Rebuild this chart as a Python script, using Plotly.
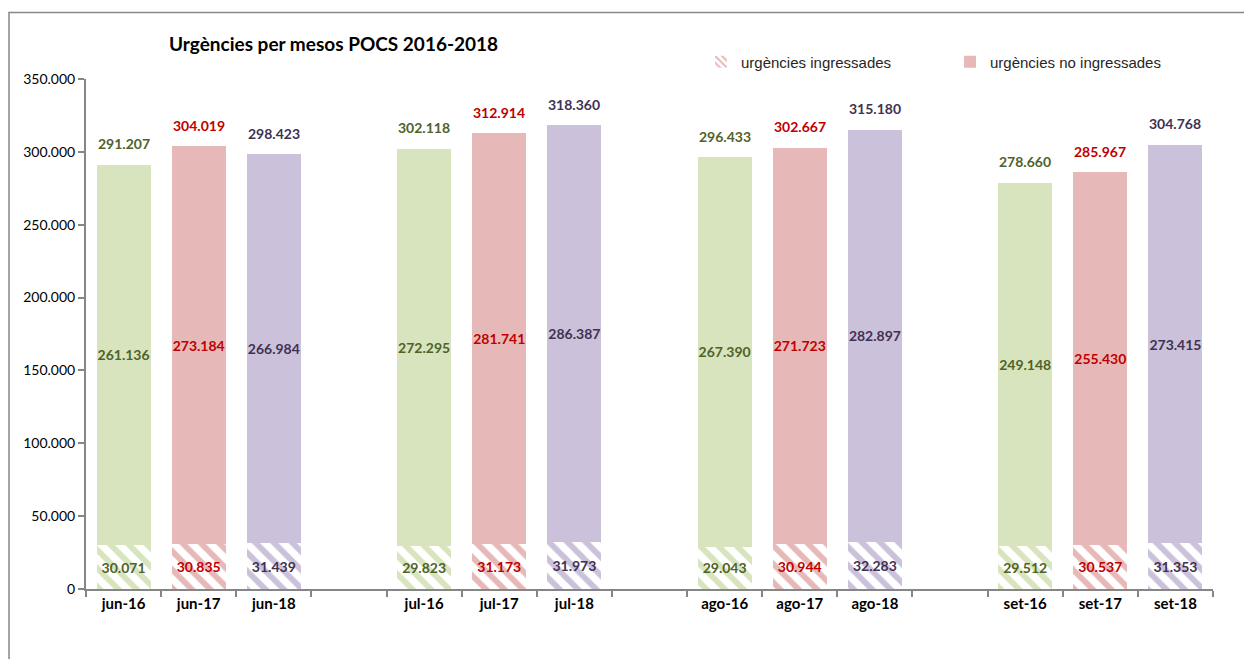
import plotly.graph_objects as go

# ---- data ----
categories = ["jun-16", "jun-17", "jun-18", " ",
              "jul-16", "jul-17", "jul-18", "  ",
              "ago-16", "ago-17", "ago-18", "   ",
              "set-16", "set-17", "set-18"]
ingressades = [30071, 30835, 31439, None,
               29823, 31173, 31973, None,
               29043, 30944, 32283, None,
               29512, 30537, 31353]
no_ingressades = [261136, 273184, 266984, None,
                  272295, 281741, 286387, None,
                  267390, 271723, 282897, None,
                  249148, 255430, 273415]
y_ticks = [0, 50000, 100000, 150000, 200000, 250000, 300000, 350000]
y_tick_labels = ["0", "50.000", "100.000", "150.000", "200.000", "250.000", "300.000", "350.000"]
title = "Urgències per mesos POCS 2016-2018"
legend_names = ["urgències ingressades", "urgències no ingressades"]

# ---- styles ----
fill_by_year = {"16": "#D7E4BD", "17": "#E6B9B8", "18": "#CCC1DA"}
text_by_year = {"16": "#4F6228", "17": "#C00000", "18": "#403152"}
LBL_FONT = "Lato"

W, H = 1244, 651          # page has an 8px body margin
L, R, T, B = 78, 39, 71, 70
PW, PH = W - L - R, H - T - B


def year_of(c):
    c = c.strip()
    return c[-2:] if c else "16"


fills = [fill_by_year[year_of(c)] for c in categories]
tcols = [text_by_year[year_of(c)] for c in categories]


def fmt(v):
    return "" if v is None else f"{v:,}".replace(",", ".")


totals = [None if (a is None or b is None) else a + b for a, b in zip(ingressades, no_ingressades)]

fig = go.Figure()

fig.add_trace(go.Bar(
    x=categories, y=ingressades, showlegend=False,
    marker=dict(color=fills, line=dict(width=0),
                pattern=dict(shape="\\", fgcolor=fills, bgcolor="white",
                             size=13, solidity=0.45, fillmode="replace")),
    text=[fmt(v) for v in ingressades], textposition="inside",
    insidetextanchor="middle", textangle=0, constraintext="none",
    textfont=dict(color=tcols, size=14, family=LBL_FONT, weight="bold"),
    hoverinfo="skip",
))
fig.add_trace(go.Bar(
    x=categories, y=no_ingressades, showlegend=False,
    marker=dict(color=fills, line=dict(width=0)),
    text=[fmt(v) for v in no_ingressades], textposition="inside",
    insidetextanchor="middle", textangle=0, constraintext="none",
    textfont=dict(color=tcols, size=14, family=LBL_FONT, weight="bold"),
    hoverinfo="skip",
))

# legend-only entries
fig.add_trace(go.Bar(
    x=[None], y=[None], name=legend_names[0],
    marker=dict(color="#E6B9B8", line=dict(width=0),
                pattern=dict(shape="\\", fgcolor="#E6B9B8", bgcolor="white",
                             size=6, solidity=0.4, fillmode="replace")),
))
fig.add_trace(go.Bar(
    x=[None], y=[None], name=legend_names[1],
    marker=dict(color="#E6B9B8", line=dict(width=0)),
))

# totals above bars
for c, t, col in zip(categories, totals, tcols):
    if t is None:
        continue
    fig.add_annotation(x=c, y=t, text=fmt(t), showarrow=False, yshift=21,
                       yanchor="middle", xanchor="center",
                       font=dict(color=col, size=14, family=LBL_FONT, weight="bold"))

axis_col = "#868686"
fig.update_layout(
    width=W, height=H,
    paper_bgcolor="white", plot_bgcolor="white",
    margin=dict(l=L, r=R, t=T, b=B, autoexpand=False),
    barmode="stack", bargap=0.28,
    uniformtext=dict(minsize=14, mode="show"),
    title=dict(text=title, x=(169 - 8) / W, xanchor="left", xref="container",
               y=1 - (44 - 8) / H, yanchor="middle", yref="container",
               font=dict(family=LBL_FONT, size=19, weight="bold", color="#000000")),
    legend=dict(orientation="h", x=(701 - 8 - L) / PW, xanchor="left",
                y=(581 - 54) / PH, yanchor="middle",
                font=dict(family="Liberation Sans", size=15, color="#262626"),
                entrywidth=204, entrywidthmode="pixels", traceorder="normal",
                bgcolor="rgba(0,0,0,0)"),
    xaxis=dict(type="category", categoryorder="array", categoryarray=categories,
               showline=True, linecolor=axis_col, linewidth=2,
               ticks="outside", ticklen=6, tickcolor=axis_col, tickwidth=2,
               tickson="boundaries", showgrid=False, zeroline=False,
               tickfont=dict(family=LBL_FONT, size=15, weight="bold", color="#000000")),
    yaxis=dict(range=[0, 350000], tickvals=y_ticks, ticktext=y_tick_labels,
               showline=True, linecolor=axis_col, linewidth=2,
               ticks="outside", ticklen=6, tickcolor=axis_col, tickwidth=2,
               showgrid=False, zeroline=False,
               tickfont=dict(family=LBL_FONT, size=14, color="#000000")),
    shapes=[dict(type="rect", xref="paper", yref="paper",
                 x0=(1 - L) / PW, x1=1.3, y0=-0.4, y1=(PH + T - 4.5) / PH,
                 line=dict(color="#878787", width=1.5), layer="below")],
)

fig.write_html("out.html")
